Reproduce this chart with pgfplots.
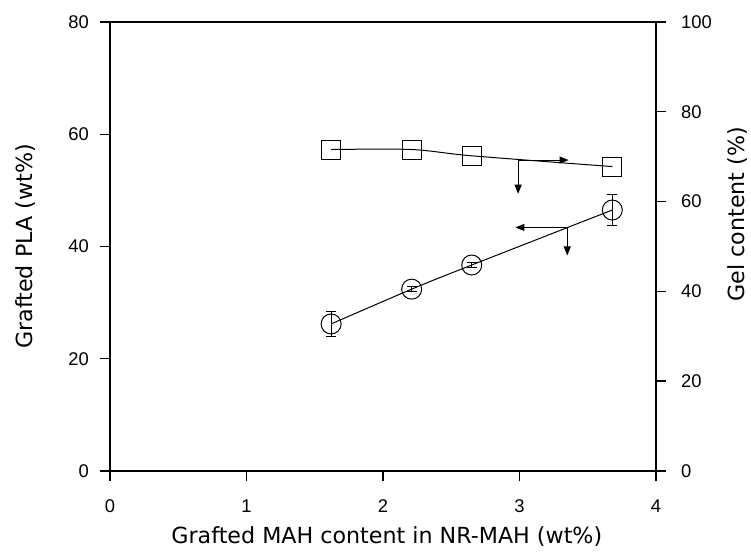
\documentclass[border=0pt]{standalone}
\usepackage{pgfplots}
\pgfplotsset{compat=1.18}
\usepackage{fontspec}
\setmainfont{Liberation Sans}
\newfontfamily\labelfont{DejaVu Sans}
\usetikzlibrary{arrows.meta}

\begin{document}
\begin{tikzpicture}
\tikzset{arr/.style={line width=0.5pt, -{Triangle[length=4.5pt, width=3.5pt]}}}
\pgfplotsset{
  base/.style={scale only axis, width=273pt, height=224.5pt,
    xmin=0, xmax=4, clip=false,
    axis line style={line width=0.7pt},
    every tick/.style={line width=0.7pt, black},
    major tick length=5pt, tick align=outside,
    tick label style={font=\fontsize{9.2}{10}\selectfont},
    label style={font=\labelfont\fontsize{11.1}{13}\selectfont},
    /pgf/number format/assume math mode=true}
}
% left axis: grafted PLA (circles)
\begin{axis}[base, ymin=0, ymax=80, ytick={0,20,40,60,80},
  xtick={0,1,2,3,4}, xtick pos=bottom, ytick pos=left,
  xticklabel style={yshift=-6pt},
  yticklabel style={xshift=-2pt},
  xlabel={Grafted MAH content in NR-MAH (wt\%)},
  ylabel={Grafted PLA (wt\%)},
  xlabel style={at={(axis description cs:0.507,-0.145)}, anchor=center},
  ylabel style={at={(axis description cs:-0.155,0.5)}, anchor=center}]
\addplot[black, line width=0.5pt, smooth, mark=o, mark size=5pt,
  error bars/.cd, y dir=both, y explicit,
  error bar style={line width=0.5pt},
  error mark options={rotate=90, mark size=2.5pt, line width=0.5pt}]
  coordinates {
  (1.62,26.2) +- (0,2.2)
  (2.21,32.4) +- (0,0.5)
  (2.65,36.7) +- (0,0.4)
  (3.68,46.5) +- (0,2.7)
};
% annotation arrows
\draw[arr] (axis cs:2.99,55.4) -- (axis cs:3.36,55.4);
\draw[arr] (axis cs:2.99,55.6) -- (axis cs:2.99,49.4);
\draw[arr] (axis cs:3.35,43.4) -- (axis cs:2.97,43.4);
\draw[arr] (axis cs:3.35,43.4) -- (axis cs:3.35,38.4);
\end{axis}
% right axis: gel content (squares)
\begin{axis}[base, ymin=0, ymax=100, ytick={0,20,40,60,80,100},
  hide x axis, axis y line*=right,
  yticklabel style={xshift=4pt},
  ylabel={Gel content (\%)},
  ylabel style={at={(axis description cs:1.150,0.572)}, anchor=center}]
\addplot[black, line width=0.5pt, smooth, tension=0.5,
  mark=square, mark size=4.75pt, mark options={fill=none}]
  coordinates {
  (1.62,71.6)
  (2.21,71.6)
  (2.65,70.2)
  (3.68,67.8)
};
\end{axis}
\pgfresetboundingbox
\path[use as bounding box] (-55pt,-43.5pt) rectangle (320.5pt,235.5pt);
\end{tikzpicture}
\end{document}
